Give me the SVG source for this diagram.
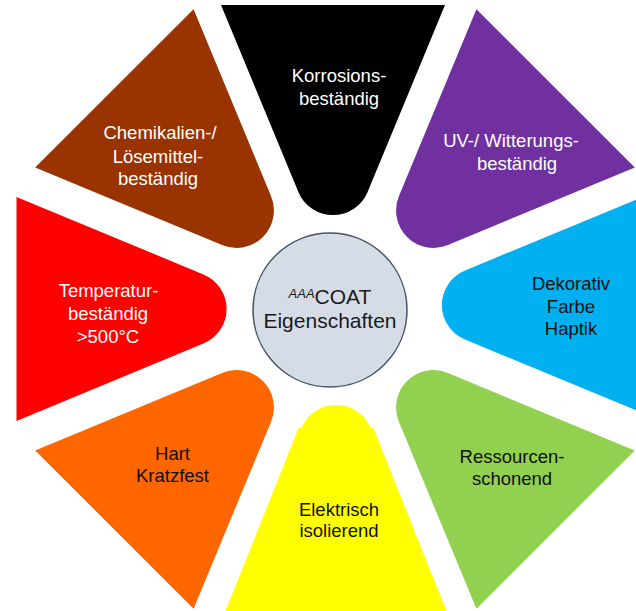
<svg xmlns="http://www.w3.org/2000/svg" xmlns:xlink="http://www.w3.org/1999/xlink" width="636" height="611" viewBox="0 0 636 611">
  <style>
    text { font-family: "Liberation Sans", Arial, sans-serif; font-size: 18.5px; text-anchor: middle; }
    .w { fill: #ffffff; }
    .k { fill: #111111; }
    .center { font-size: 21px; fill: #1a1a1a; }
  </style>
  <defs>
    <path id="wedge" d="M -112,-312 L 112,-312 L 34.6,-125.1 A 37.4 37.4 0 0 1 -34.6,-125.1 Z"/>
  </defs>
  <rect width="636" height="611" fill="#ffffff"/>
  <g id="segments">
    <g id="n-korrosion">
      <use xlink:href="#wedge" href="#wedge" fill="#000000" transform="translate(335,309) rotate(0) translate(-2,8)"/>
      <text class="w" x="339" y="82">Korrosions-</text>
      <text class="w" x="339" y="105">beständig</text>
    </g>
    <g id="n-uv">
      <use xlink:href="#wedge" href="#wedge" fill="#7030A0" transform="translate(335,309) rotate(45)"/>
      <text class="w" x="511" y="147">UV-/ Witterungs-</text>
      <text class="w" x="517" y="170">beständig</text>
    </g>
    <g id="n-dekorativ">
      <use xlink:href="#wedge" href="#wedge" fill="#00B0F0" transform="translate(335,309) rotate(90) translate(-4,-5)"/>
      <text class="k" x="571" y="290">Dekorativ</text>
      <text class="k" x="571" y="313">Farbe</text>
      <text class="k" x="571" y="335">Haptik</text>
    </g>
    <g id="n-ressourcen">
      <use xlink:href="#wedge" href="#wedge" fill="#92D050" transform="translate(335,309) rotate(135)"/>
      <text class="k" x="512" y="463">Ressourcen-</text>
      <text class="k" x="512" y="485">schonend</text>
    </g>
    <g id="n-elektrisch">
      <g transform="translate(335,309) rotate(180) translate(-1,6)" fill="#FFFF00">
        <use xlink:href="#wedge" href="#wedge"/>
        <polygon points="-112,-312 112,-312 37.2,-124.6 -37.2,-124.6"/>
      </g>
      <text class="k" x="339" y="516">Elektrisch</text>
      <text class="k" x="339" y="537">isolierend</text>
    </g>
    <g id="n-hart">
      <use xlink:href="#wedge" href="#wedge" fill="#FF6600" transform="translate(335,309) rotate(225)"/>
      <text class="k" x="172.5" y="460">Hart</text>
      <text class="k" x="172.5" y="482">Kratzfest</text>
    </g>
    <g id="n-temperatur">
      <use xlink:href="#wedge" href="#wedge" fill="#FF0000" transform="translate(335,309) rotate(270) translate(0,-6.5)"/>
      <text class="w" x="108.5" y="297">Temperatur-</text>
      <text class="w" x="108" y="320">beständig</text>
      <text class="w" x="108" y="343">&gt;500°C</text>
    </g>
    <g id="n-chemikalien">
      <use xlink:href="#wedge" href="#wedge" fill="#993300" transform="translate(335,309) rotate(315)"/>
      <text class="w" x="160" y="139">Chemikalien-/</text>
      <text class="w" x="158" y="163">Lösemittel-</text>
      <text class="w" x="158" y="185">beständig</text>
    </g>
  </g>
  <g id="n-center">
    <circle cx="330" cy="310" r="77" fill="#D6DCE5" stroke="#44546A" stroke-width="1.5"/>
    <text class="center" x="330" y="304"><tspan font-style="italic" font-size="13" dy="-6">AAA</tspan><tspan dy="6">COAT</tspan></text>
    <text class="center" x="330" y="328">Eigenschaften</text>
  </g>
  <g id="connectors"/>
</svg>
